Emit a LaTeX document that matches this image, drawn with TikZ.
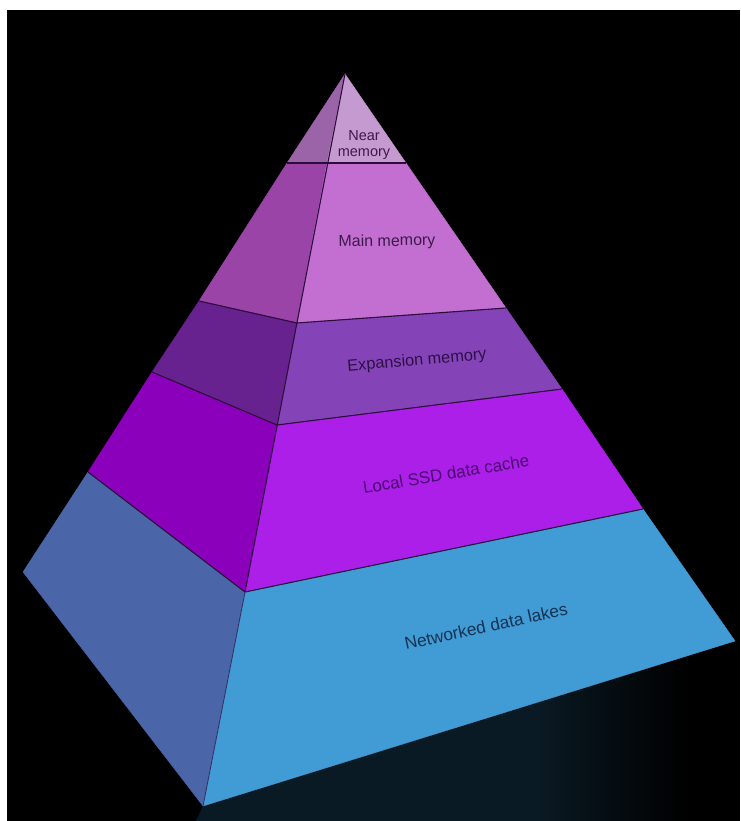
\documentclass[tikz,border=0pt]{standalone}
\usepackage{fontspec}
\setmainfont{Liberation Sans}
\definecolor{nearF}{HTML}{C59AD0}
\definecolor{nearL}{HTML}{9B64A8}
\definecolor{mainF}{HTML}{C26FD1}
\definecolor{mainL}{HTML}{9A44A8}
\definecolor{expF}{HTML}{8444B8}
\definecolor{expL}{HTML}{68228F}
\definecolor{ssdF}{HTML}{AC1FE8}
\definecolor{ssdL}{HTML}{8A00BB}
\definecolor{netF}{HTML}{419BD5}
\definecolor{netL}{HTML}{4A66A8}
\definecolor{edgec}{HTML}{2B0C3A}
\definecolor{reflc}{HTML}{0A1A24}
\definecolor{txtA}{HTML}{3D1A4A}
\definecolor{txtB}{HTML}{2E0F45}
\definecolor{txtC}{HTML}{4A0870}
\definecolor{txtD}{HTML}{173352}
\pgfdeclarehorizontalshading{reflshade}{100bp}{color(0bp)=(reflc); color(56bp)=(reflc); color(70bp)=(black); color(100bp)=(black)}
\begin{document}
\begin{tikzpicture}[x=1pt,y=-1pt,
  face/.style={fill=#1,draw=#1,line width=0.4pt},
  divline/.style={draw=edgec,line width=1.1pt},
  lab/.style={inner sep=0pt,align=center}]
\useasboundingbox (0,0) rectangle (740,821);
\fill[white] (0,0) rectangle (740,821);
\fill[black] (7,10) rectangle (740,821);
% coordinates
\coordinate (A) at (345,74);
\coordinate (L1) at (287,163); \coordinate (F1) at (327,163); \coordinate (R1) at (406,163);
\coordinate (L2) at (199,301); \coordinate (F2) at (297,323); \coordinate (R2) at (506,308);
\coordinate (L3) at (152,372); \coordinate (F3) at (277,425); \coordinate (R3) at (562,389);
\coordinate (L4) at (88,472);  \coordinate (F4) at (245,592); \coordinate (R4) at (643,509);
\coordinate (L5) at (23,572);  \coordinate (F5) at (203,806); \coordinate (R5) at (735,641);
% reflection
\shade[shading=reflshade] (F5) -- (R5) -- (740,652) -- (740,821) -- (196,821) -- cycle;
% faces
\path[face=nearL] (A) -- (L1) -- (F1) -- cycle;
\path[face=nearF] (A) -- (F1) -- (R1) -- cycle;
\path[face=mainL] (L1) -- (F1) -- (F2) -- (L2) -- cycle;
\path[face=mainF] (F1) -- (R1) -- (R2) -- (F2) -- cycle;
\path[face=expL] (L2) -- (F2) -- (F3) -- (L3) -- cycle;
\path[face=expF] (F2) -- (R2) -- (R3) -- (F3) -- cycle;
\path[face=ssdL] (L3) -- (F3) -- (F4) -- (L4) -- cycle;
\path[face=ssdF] (F3) -- (R3) -- (R4) -- (F4) -- cycle;
\path[face=netL] (L4) -- (F4) -- (F5) -- (L5) -- cycle;
\path[face=netF] (F4) -- (R4) -- (R5) -- (F5) -- cycle;
% edges
\draw[divline] (L1) -- (F1) -- (R1);
\draw[divline] (L2) -- (F2) -- (R2);
\draw[divline] (L3) -- (F3) -- (R3);
\draw[divline] (L4) -- (F4) -- (R4);
\draw[divline] (A) -- (F4);
\draw[draw=edgec!60!netL,line width=0.9pt] (F4) -- (F5);
% labels
\node[lab,text=txtA,font=\fontsize{14.5}{16}\selectfont] (tnear) at (364,145) {Near\\memory};
\node[lab,text=txtA,font=\fontsize{16}{19}\selectfont,rotate=1] (tmain) at (387,242) {Main memory};
\node[lab,text=txtB,font=\fontsize{16.3}{19}\selectfont,rotate=5] (texp) at (417,361) {Expansion memory};
\node[lab,text=txtC,font=\fontsize{17}{20}\selectfont,rotate=9.4] (tssd) at (446,474) {Local SSD data cache};
\node[lab,text=txtD,font=\fontsize{17.3}{20}\selectfont,rotate=12.3] (tnet) at (486,626) {Networked data lakes};
\end{tikzpicture}
\end{document}
